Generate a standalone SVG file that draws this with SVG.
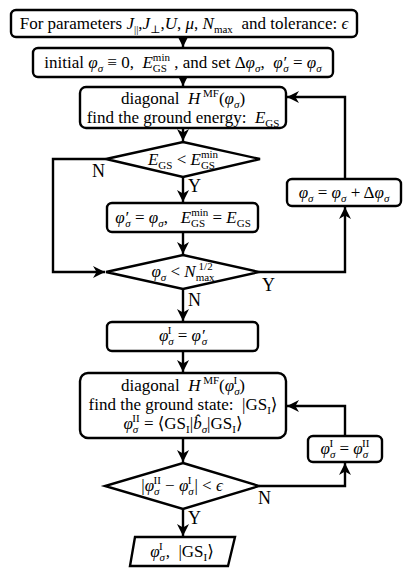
<svg xmlns="http://www.w3.org/2000/svg" width="415" height="576" viewBox="0 0 415 576">
<style>
text{font-family:"Liberation Serif","DejaVu Serif","Times New Roman",serif;font-size:17px;fill:#000}
.i{font-style:italic}
.b{font-size:11px;baseline-shift:-4px}
.p{font-size:11px;baseline-shift:7px}
.n{fill:#fff;stroke:#000;stroke-width:2.4}
.c{fill:none;stroke:#000;stroke-width:2.4}
.l{font-size:18px}
</style>
<defs>
<marker id="a" markerWidth="12" markerHeight="12" refX="10" refY="5" orient="auto" markerUnits="userSpaceOnUse" viewBox="0 0 10 10">
<path d="M0,0 L10,5 L0,10 L3,5 z" fill="#000"/>
</marker>
</defs>
<g id="connectors">
<line class="c" x1="183" y1="37" x2="183" y2="47" marker-end="url(#a)"/>
<line class="c" x1="183" y1="77" x2="183" y2="86" marker-end="url(#a)"/>
<line class="c" x1="183" y1="128" x2="183" y2="141" marker-end="url(#a)"/>
<line class="c" x1="183" y1="177" x2="183" y2="202" marker-end="url(#a)"/>
<line class="c" x1="183" y1="232" x2="183" y2="254" marker-end="url(#a)"/>
<polyline class="c" points="106,159 53,159 53,272 105,272" marker-end="url(#a)"/>
<polyline class="c" points="259,272 345,272 345,207" marker-end="url(#a)"/>
<polyline class="c" points="345,179 345,97 287,97" marker-end="url(#a)"/>
<line class="c" x1="183" y1="289" x2="183" y2="321" marker-end="url(#a)"/>
<line class="c" x1="183" y1="351" x2="183" y2="372" marker-end="url(#a)"/>
<line class="c" x1="183" y1="438" x2="183" y2="462" marker-end="url(#a)"/>
<line class="c" x1="183" y1="509" x2="183" y2="536" marker-end="url(#a)"/>
<polyline class="c" points="259,486 345,486 345,463" marker-end="url(#a)"/>
<polyline class="c" points="345,436 345,406 287,406" marker-end="url(#a)"/>
<text class="l" x="92" y="177">N</text>
<text class="l" x="188" y="192">Y</text>
<text class="l" x="262" y="291">Y</text>
<text class="l" x="188" y="306">N</text>
<text class="l" x="258" y="504">N</text>
<text class="l" x="188" y="524">Y</text>
</g>
<g id="n1">
<rect class="n" x="11" y="10" width="346" height="27" rx="5"/>
<text x="184" y="29" text-anchor="middle">For parameters <tspan class="i">J</tspan><tspan class="b">||</tspan>,<tspan class="i">J</tspan><tspan class="b">⊥</tspan>,<tspan class="i">U</tspan>, <tspan class="i">μ</tspan>, <tspan class="i">N</tspan><tspan class="b">max</tspan>&#160; and tolerance: <tspan class="i">ϵ</tspan></text>
</g>
<g id="n2">
<rect class="n" x="33" y="48" width="300" height="29" rx="5"/>
<text x="183" y="68" text-anchor="middle">initial <tspan class="i">φ</tspan><tspan class="b i">σ</tspan> ≡ 0,&#160; <tspan class="i">E</tspan><tspan class="b">GS</tspan><tspan class="p" dx="-14">min</tspan> , and set Δ<tspan class="i">φ</tspan><tspan class="b i">σ</tspan>,&#160; <tspan class="i">φ′</tspan><tspan class="b i" dx="-3">σ</tspan> = <tspan class="i">φ</tspan><tspan class="b i">σ</tspan></text>
</g>
<g id="n3">
<rect class="n" x="80" y="87" width="206" height="41" rx="6"/>
<text x="183" y="104" text-anchor="middle">diagonal&#160; <tspan class="i">H</tspan><tspan class="p"> MF</tspan>(<tspan class="i">φ</tspan><tspan class="b i">σ</tspan>)</text>
<text x="183" y="123" text-anchor="middle">find the ground energy:&#160; <tspan class="i">E</tspan><tspan class="b">GS</tspan></text>
</g>
<g id="n4">
<polygon class="n" points="183,142 260,159 183,177 106,159"/>
<text x="183" y="165" text-anchor="middle"><tspan class="i">E</tspan><tspan class="b">GS</tspan> &lt; <tspan class="i">E</tspan><tspan class="b">GS</tspan><tspan class="p" dx="-14">min</tspan></text>
</g>
<g id="n5">
<rect class="n" x="107" y="203" width="151" height="29" rx="5"/>
<text x="183" y="223" text-anchor="middle"><tspan class="i">φ′</tspan><tspan class="b i" dx="-3">σ</tspan> = <tspan class="i">φ</tspan><tspan class="b i">σ</tspan>,&#160;&#160; <tspan class="i">E</tspan><tspan class="b">GS</tspan><tspan class="p" dx="-14">min</tspan> = <tspan class="i">E</tspan><tspan class="b">GS</tspan></text>
</g>
<g id="n6">
<polygon class="n" points="183,255 259,272 183,289 106,272"/>
<text x="183" y="277" text-anchor="middle"><tspan class="i">φ</tspan><tspan class="b i">σ</tspan> &lt; <tspan class="i">N</tspan><tspan class="b">max</tspan><tspan class="p" dx="-16">1/2</tspan></text>
</g>
<g id="n7">
<rect class="n" x="287" y="179" width="114" height="27" rx="5"/>
<text x="344" y="198" text-anchor="middle"><tspan class="i">φ</tspan><tspan class="b i">σ</tspan> = <tspan class="i">φ</tspan><tspan class="b i">σ</tspan> + Δ<tspan class="i">φ</tspan><tspan class="b i">σ</tspan></text>
</g>
<g id="n8">
<rect class="n" x="107" y="322" width="151" height="29" rx="5"/>
<text x="183" y="341" text-anchor="middle"><tspan class="i">φ</tspan><tspan class="b i">σ</tspan><tspan class="p" dx="-6">I</tspan><tspan dx="2"> = </tspan><tspan class="i">φ′</tspan><tspan class="b i" dx="-3">σ</tspan></text>
</g>
<g id="n9">
<rect class="n" x="80" y="373" width="206" height="65" rx="8"/>
<text x="183" y="391" text-anchor="middle">diagonal&#160; <tspan class="i">H</tspan><tspan class="p"> MF</tspan>(<tspan class="i">φ</tspan><tspan class="b i">σ</tspan><tspan class="p" dx="-6">I</tspan><tspan dx="2">)</tspan></text>
<text x="183" y="410" text-anchor="middle">find the ground state:&#160; |GS<tspan class="b">I</tspan>⟩</text>
<text x="183" y="429" text-anchor="middle"><tspan class="i">φ</tspan><tspan class="b i">σ</tspan><tspan class="p" dx="-6">II</tspan> = ⟨GS<tspan class="b">I</tspan>|<tspan class="i">b̂</tspan><tspan class="b i">σ</tspan>|GS<tspan class="b">I</tspan>⟩</text>
</g>
<g id="n10">
<rect class="n" x="308" y="436" width="74" height="26" rx="5"/>
<text x="345" y="454" text-anchor="middle"><tspan class="i">φ</tspan><tspan class="b i">σ</tspan><tspan class="p" dx="-6">I</tspan><tspan dx="2"> = </tspan><tspan class="i">φ</tspan><tspan class="b i">σ</tspan><tspan class="p" dx="-6">II</tspan></text>
</g>
<g id="n11">
<polygon class="n" points="183,463 259,486 183,509 105,486"/>
<text x="182" y="491" text-anchor="middle">|<tspan class="i">φ</tspan><tspan class="b i">σ</tspan><tspan class="p" dx="-6">II</tspan> − <tspan class="i">φ</tspan><tspan class="b i">σ</tspan><tspan class="p" dx="-6">I</tspan><tspan dx="3">| &lt; </tspan><tspan class="i">ϵ</tspan></text>
</g>
<g id="n12">
<polygon class="n" points="135,537 235,537 228,566 130,566"/>
<text x="182" y="557" text-anchor="middle"><tspan class="i">φ</tspan><tspan class="b i">σ</tspan><tspan class="p" dx="-6">I</tspan><tspan dx="3">,&#160; |GS</tspan><tspan class="b">I</tspan>⟩</text>
</g>
</svg>
